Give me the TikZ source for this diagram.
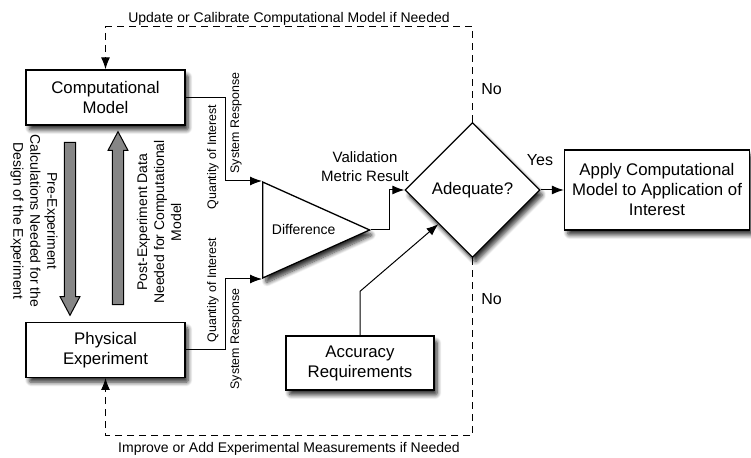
\documentclass[tikz,border=0pt]{standalone}
\usepackage{fontspec}
\setmainfont{Liberation Sans}
\usetikzlibrary{shapes.geometric, shapes.arrows, arrows.meta, positioning, shadows.blur}

\begin{document}
\begin{tikzpicture}[x=0.5pt, y=-0.5pt, >=Latex, font=\fontsize{8.4}{10}\selectfont]
    % Define the styles
    \tikzset{
        dropped/.style = {blur shadow={shadow xshift=1.6pt, shadow yshift=-2.5pt, shadow blur steps=8, shadow blur extra rounding=1pt, shadow opacity=80}},
        block/.style = {draw, fill=white, rectangle, line width=0.65pt, align=center, inner sep=0pt, minimum width=79.5pt, minimum height=27.5pt, dropped},
        gate/.style = {draw, fill=white, line width=0.65pt, inner sep=0pt, dropped},
        fat/.style = {draw, fill=gray!95, single arrow, line width=0.5pt, inner sep=2.6pt, minimum width=9.4pt, minimum height=86.5pt, single arrow head extend=2.1pt, single arrow tip angle=56},
        line/.style = {draw, line width=0.5pt, -{Latex[length=6pt, width=4.5pt]}},
        redo/.style = {line, dash pattern=on 3.5pt off 2.5pt},
        tag/.style = {font=\fontsize{6.2}{7.4}\selectfont, inner sep=0pt, rotate=90},
        note/.style = {font=\fontsize{7}{8.5}\selectfont, align=center, inner sep=0pt},
        yesno/.style = {font=\fontsize{8}{9.6}\selectfont, inner sep=0pt},
    }
    \useasboundingbox (0,0) rectangle (751,458);

    % Nodes placement
    \node [block] (comp) at (105.5,97.5) {Computational\\Model};
    \node [block, below=98pt of comp] (phys) {Physical\\Experiment};
    \node [gate, isosceles triangle, isosceles triangle stretches, minimum width=48pt, minimum height=53.5pt, anchor=lower side, font=\fontsize{7}{8.4}\selectfont] (diff) at (262,230) {Difference};
    \node [gate, diamond, minimum width=67.5pt, minimum height=67.5pt] (adq) at (472.5,190) {Adequate?};
    \node [block, minimum width=92.5pt, minimum height=40pt] (apply) at (657,190) {Apply Computational\\Model to Application of\\Interest};
    \node [block, minimum width=74pt, minimum height=27pt] (acc) at (360,363) {Accuracy\\Requirements};

    % Gray arrows between the two boxes
    \node [fat, shape border rotate=270] (pre) at (70,223.5) {};
    \node [fat, shape border rotate=90] (post) at (118,223.5) {};
    \node [note, rotate=-90] (prelbl) at (34,221) {Pre-Experiment\\Calculations Needed for the\\Design of the Experiment};
    \node [note, rotate=90] (postlbl) at (159,222) {Post-Experiment Data\\Needed for Computational\\Model};

    % Connecting lines
    \draw [line] (comp.east) -- ++(40,0) |- (diff.left corner);
    \draw [line] (phys.east) -- ++(40,0) |- (diff.right corner);
    \draw [line] (diff.apex) -- ++(18,0) |- (adq.west);
    \draw [line] (acc.north) -- ++(0,-44) -- (adq.south west);
    \draw [line] (adq.east) -- (apply.west);

    % Loops back to the model and the experiment
    \draw [redo] (adq.north) -- ++(0,-95) -| node [note, pos=0.25, above=0.4pt] (upd) {Update or Calibrate Computational Model if Needed} (comp.north);
    \draw [redo] (adq.south) -- ++(0,177.5) -| node [note, pos=0.25, below=3pt] (imp) {Improve or Add Experimental Measurements if Needed} (phys.south);

    % Labels
    \node [tag] (qoi1) at (213,157) {Quantity of Interest};
    \node [tag] (sr1) at (236,123) {System Response};
    \node [tag] (qoi2) at (213,290) {Quantity of Interest};
    \node [tag] (sr2) at (236,339) {System Response};
    \node [font=\fontsize{7.5}{9.5}\selectfont, align=center, inner sep=0pt] (vmr) at (365,167) {Validation\\Metric Result};
    \node [yesno] (yes) at (540,160) {Yes};
    \node [yesno] (no1) at (491.5,89) {No};
    \node [yesno] (no2) at (491.5,299) {No};

\end{tikzpicture}
\end{document}
